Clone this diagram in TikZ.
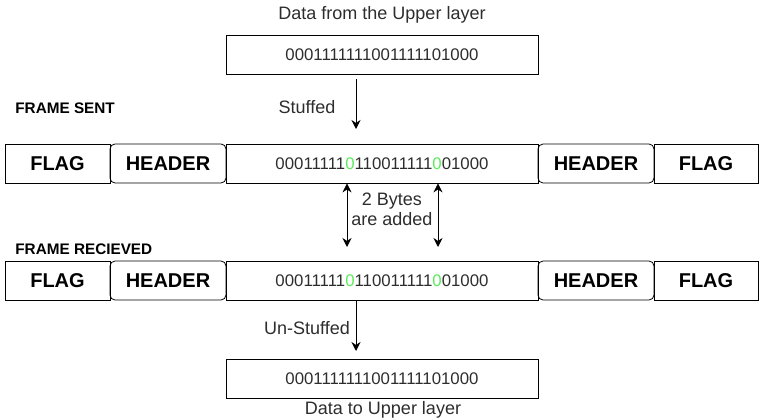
\documentclass[tikz,border=0pt]{standalone}
\usepackage{fontspec}
\setmainfont{Liberation Sans}
\usepackage{tikz}
\usetikzlibrary{arrows.meta}
\definecolor{FrameTextColor}{RGB}{45,45,45}
\definecolor{FrameBitColor}{RGB}{90,235,90}

\begin{document}
\begin{tikzpicture}[x=1pt,y=-1pt,line width=0.8pt,
  fld/.style n args={2}{draw,minimum width=#1pt,minimum height=39pt,inner sep=0pt,#2},
  bits/.style={font=\fontsize{16.8}{19}\selectfont,text=FrameTextColor},
  lbl/.style={font=\fontsize{18}{20}\selectfont,text=FrameTextColor,align=center},
  ttl/.style={font=\bfseries\fontsize{15.3}{17}\selectfont,anchor=west,inner sep=1pt},
  big/.style={font=\bfseries\fontsize{20}{22}\selectfont},
  arr/.style={arrows={-Stealth[length=9pt,width=9pt]}},
  darr/.style={arrows={Stealth[length=9pt,width=9pt]-Stealth[length=9pt,width=9pt]}}]
\useasboundingbox (0,0) rectangle (764,420);
% data from / to the upper layer
\node[lbl] (uplbl) at (382,15) {Data from the Upper layer};
\node[fld={312}{},bits] (up) at (382,54.5) {0001111111001111101000};
\node[fld={312}{},bits] (dn) at (382,378.5) {0001111111001111101000};
\node[lbl] (dnlbl) at (383,410) {Data to Upper layer};
% the two frames
\node[ttl] (sent) at (14,108) {FRAME SENT};
\node[ttl] (recv) at (14,249) {FRAME RECIEVED};
\foreach \y/\rw in %
{163.5/s,280.5/r} {
   \node[fld={105}{},big] (flag\rw1) at (57.5,\y) {FLAG};
   \node[fld={116}{rounded corners=5pt},big] (hdr\rw1) at (168,\y) {HEADER};
   \node[fld={312}{},bits] (dat\rw) at (382,\y)
      {00011111\textcolor{FrameBitColor}{0}110011111\textcolor{FrameBitColor}{0}01000};
   \node[fld={116}{rounded corners=5pt},big] (hdr\rw2) at (596,\y) {HEADER};
   \node[fld={104}{},big] (flag\rw2) at (706,\y) {FLAG};
}
% arrows
\coordinate (c0) at (356,129);
\coordinate (c1) at (347,247);
\coordinate (c2) at (438,247);
\coordinate (c3) at (356,351);
\draw[arr,shorten <=5pt] (up.south -| c0) -- (c0);
\node[lbl] (stf) at (307,107) {Stuffed};
\draw[darr] (dats.south -| c1) -- (c1);
\draw[darr] (dats.south -| c2) -- (c2);
\node[lbl] (add) at (392,209) {2 Bytes\\are added};
\draw[arr] (datr.south -| c3) -- (c3);
\node[lbl] (ustf) at (307,328) {Un-Stuffed};
\end{tikzpicture}
\end{document}
